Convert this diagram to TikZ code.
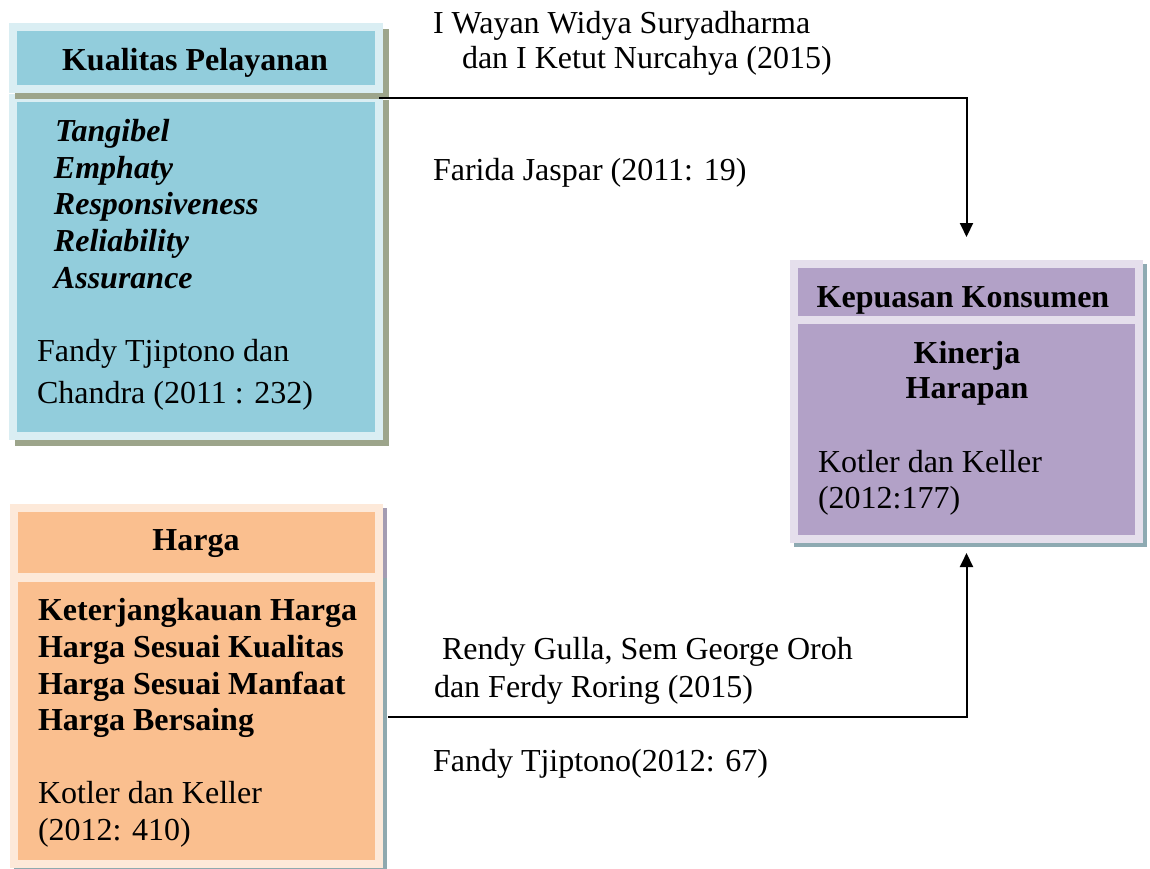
\documentclass[tikz,border=0pt]{standalone}
\usepackage{fontspec}
\setmainfont{Liberation Serif}
\usetikzlibrary{arrows.meta,shadows}
\definecolor{bluefill}{HTML}{92CDDC}
\definecolor{blueframe}{HTML}{DAEEF3}
\definecolor{blueshadow}{HTML}{9DA58B}
\definecolor{orangefill}{HTML}{FABF8F}
\definecolor{orangeframe}{HTML}{FDE9D9}
\definecolor{orangeshadowA}{HTML}{A49CB2}
\definecolor{orangeshadowB}{HTML}{8FA9AF}
\definecolor{purplefill}{HTML}{B2A1C7}
\definecolor{purpleframe}{HTML}{E5DFEC}
\definecolor{purpleshadow}{HTML}{8EAAB2}
\tikzset{
  frame/.style={rectangle, inner sep=0pt, outer sep=0pt, line width=4pt},
  shad/.style 2 args={drop shadow={opacity=1, fill=#1, draw=#1, line width=4pt,
    shadow xshift=#2, shadow yshift=-#2}},
  bluebox/.style={frame, draw=blueframe, fill=bluefill, shad={blueshadow}{3pt}},
  orangeboxA/.style={frame, draw=orangeframe, fill=orangefill, shad={orangeshadowA}{2pt}},
  orangeboxB/.style={frame, draw=orangeframe, fill=orangefill, shad={orangeshadowB}{2pt}},
  purplebox/.style={frame, draw=purpleframe, fill=purplefill, shad={purpleshadow}{1.75pt}},
  txt/.style={inner sep=0pt, outer sep=0pt, anchor=base west, font=\fontsize{16pt}{18.5pt}\selectfont},
  ctxt/.style={txt, anchor=base},
  btxt/.style={txt, font=\fontsize{16pt}{18.5pt}\selectfont\bfseries},
  cbtxt/.style={ctxt, font=\fontsize{16pt}{18.5pt}\selectfont\bfseries},
  bitxt/.style={txt, font=\fontsize{16pt}{18.5pt}\selectfont\bfseries\itshape},
  conn/.style={line width=1pt, -{Triangle[width=6.5pt,length=7pt]}},
}
\begin{document}
\begin{tikzpicture}[x=0.5pt, y=-0.5pt]
\useasboundingbox (0,0) rectangle (1150,868);

% Kualitas Pelayanan
\node[bluebox, minimum width=183pt, minimum height=169pt] (kpB) at (196,267) {};
\node[bluebox, minimum width=183pt, minimum height=31pt] (kpT) at (196,58) {};
\node[cbtxt] (kpTitle) at (195,70) {Kualitas Pelayanan};
\node[bitxt] (kp1) at (55,141) {Tangibel};
\node[bitxt] (kp2) at (54,178) {Emphaty};
\node[bitxt] (kp3) at (54,214) {Responsiveness};
\node[bitxt] (kp4) at (54,251) {Reliability};
\node[bitxt] (kp5) at (54,288) {Assurance};
\node[txt] (kpR1) at (37,361) {Fandy Tjiptono dan};
\node[txt] (kpR2) at (37,403) {Chandra (2011 : 232)};

% Harga
\node[orangeboxA, minimum width=182.5pt, minimum height=34.5pt] (hgT) at (196.5,542.5) {};
\node[orangeboxB, minimum width=182.5pt, minimum height=143pt] (hgB) at (196.5,721) {};
\node[cbtxt] (hgTitle) at (196,550) {Harga};
\node[btxt] (hg1) at (38,620) {Keterjangkauan Harga};
\node[btxt] (hg2) at (38,657) {Harga Sesuai Kualitas};
\node[btxt] (hg3) at (38,694) {Harga Sesuai Manfaat};
\node[btxt] (hg4) at (38,730) {Harga Bersaing};
\node[txt] (hgR1) at (38,803) {Kotler dan Keller};
\node[txt] (hgR2) at (38,840) {(2012: 410)};

% Kepuasan Konsumen
\node[purplebox, minimum width=172.5pt, minimum height=28pt] (ksT) at (966.5,292) {};
\node[purplebox, minimum width=172.5pt, minimum height=109.5pt] (ksB) at (966.5,429.5) {};
\node[cbtxt] (ksTitle) at (963,307) {Kepuasan Konsumen};
\node[cbtxt] (ks1) at (967,363) {Kinerja};
\node[cbtxt] (ks2) at (967,398) {Harapan};
\node[txt] (ksR1) at (818,472) {Kotler dan Keller};
\node[txt] (ksR2) at (818,508) {(2012:177)};

% Connectors
\draw[conn, shorten >=13.5pt] (kpB.north east) -| (ksT.north);
\draw[conn, shorten <=4.5pt, shorten >=7pt] ([yshift=2pt]hgB.east) -| (ksB.south);

% Connector labels
\node[txt] (l1a) at (433,33) {I Wayan Widya Suryadharma};
\node[txt] (l1b) at (462,68) {dan I Ketut Nurcahya (2015)};
\node[txt] (l2) at (433,180) {Farida Jaspar (2011: 19)};
\node[txt] (l3a) at (442,659) {Rendy Gulla, Sem George Oroh};
\node[txt] (l3b) at (434,697) {dan Ferdy Roring (2015)};
\node[txt] (l4) at (433,771) {Fandy Tjiptono(2012: 67)};
\end{tikzpicture}
\end{document}
